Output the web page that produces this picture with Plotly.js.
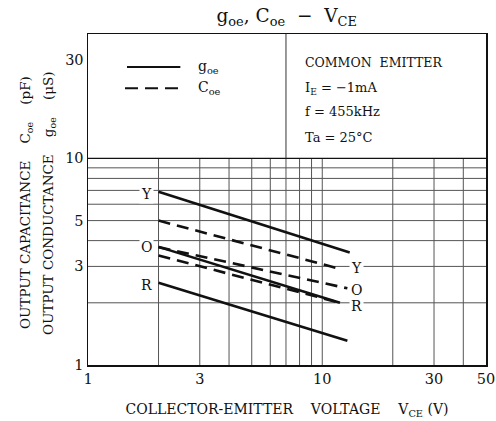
<!DOCTYPE html>
<html>
<head>
<meta charset="utf-8">
<script src="https://cdn.plot.ly/plotly-3.0.1.min.js"></script>
<style>html,body{margin:0;padding:0;background:#fff;}#chart{width:496px;height:421px;}</style>
</head>
<body>
<div id="chart"></div>
<script>
// Output conductance g_oe (solid) and capacitance C_oe (dashed) vs V_CE, hFE ranks Y, O, R
const goeY_x = [2, 13.1];  const goeY = [6.9, 3.5];
const goeO_x = [2, 11.9];  const goeO = [3.73, 2.0];
const goeR_x = [2, 12.8];  const goeR = [2.5, 1.31];
const coeY_x = [2, 11.5];  const coeY = [5.0, 2.95];
const coeO_x = [2, 12.8];  const coeO = [3.72, 2.35];
const coeR_x = [2, 11.9];  const coeR = [3.39, 2.0];

const xTickVals = [1, 3, 10, 30, 50];
const xTickText = ['1', '3', '10', '30', '50'];
const yTickVals = [1, 3, 5, 10, 30];
const yTickText = ['1', '3', '5', '10', '30'];
const xGrid = [2, 3, 4, 5, 6, 7, 8, 9, 10, 20, 30, 40];
const yGrid = [2, 3, 4, 5, 6, 7, 8, 9, 10];
const xMin = 1, xMax = 50, yMin = 1, yMax = 40, gridTop = 10, divider = 7;

const leftLabels = [{t: 'Y', x: 1.78, y: 6.75}, {t: 'O', x: 1.78, y: 3.74}, {t: 'R', x: 1.78, y: 2.44}];
const rightLabels = [{t: 'Y', x: 13.95, y: 2.96}, {t: 'O', x: 13.95, y: 2.31}, {t: 'R', x: 13.95, y: 1.93}];

const FONT = 'DejaVu Serif, Liberation Serif, serif';
const solid = {color: '#111', width: 2.6};
const dashed = {color: '#111', width: 2.6, dash: '12px,7px'};

const traces = [
  {x: goeY_x, y: goeY, line: solid},
  {x: goeO_x, y: goeO, line: solid},
  {x: goeR_x, y: goeR, line: solid},
  {x: coeY_x, y: coeY, line: dashed},
  {x: coeO_x, y: coeO, line: dashed},
  {x: coeR_x, y: coeR, line: dashed}
].map(t => Object.assign({type: 'scatter', mode: 'lines', showlegend: false, hoverinfo: 'skip'}, t));

const gridStyle = {color: '#555', width: 1};
const shapes = [];
xGrid.forEach(v => shapes.push({type: 'line', xref: 'x', yref: 'y', x0: v, x1: v, y0: yMin, y1: gridTop, line: gridStyle, layer: 'below'}));
yGrid.forEach(v => shapes.push({type: 'line', xref: 'x', yref: 'y', x0: xMin, x1: xMax, y0: v, y1: v, line: v === gridTop ? {color: '#111', width: 1.2} : gridStyle, layer: 'below'}));
shapes.push({type: 'line', xref: 'x', yref: 'y', x0: divider, x1: divider, y0: gridTop, y1: yMax, line: {color: '#333', width: 1}, layer: 'below'});
// legend samples (paper coordinates)
shapes.push({type: 'line', xref: 'paper', yref: 'paper', x0: 0.098, x1: 0.232, y0: 0.9, y1: 0.9, line: {color: '#111', width: 2}});
shapes.push({type: 'line', xref: 'paper', yref: 'paper', x0: 0.093, x1: 0.232, y0: 0.836, y1: 0.836, line: {color: '#111', width: 2, dash: '13px,7px'}});

const annotations = [];
leftLabels.concat(rightLabels).forEach(l => annotations.push({
  xref: 'x', yref: 'y', x: Math.log10(l.x), y: Math.log10(l.y), text: l.t, showarrow: false,
  font: {family: FONT, size: 14, color: '#111'}, bgcolor: '#fff', borderpad: 1
}));
const paperText = (text, x, y, size, anchor) => ({
  xref: 'paper', yref: 'paper', x: x, y: y, text: text, showarrow: false,
  xanchor: anchor || 'left', yanchor: 'middle', font: {family: FONT, size: size, color: '#111'}
});
annotations.push(paperText('g<sub>oe</sub>', 0.272, 0.9, 14));
annotations.push(paperText('C<sub>oe</sub>', 0.272, 0.836, 14));
annotations.push(paperText('COMMON  EMITTER', 0.54, 0.913, 12.5));
annotations.push(paperText('I<sub>E</sub> = −1mA', 0.54, 0.836, 13));
annotations.push(paperText('f = 455kHz', 0.54, 0.767, 13));
annotations.push(paperText('Ta = 25°C', 0.54, 0.687, 13));
// y-axis titles (two rotated lines)
annotations.push({xref: 'paper', yref: 'paper', x: -0.183, y: 0.49, textangle: -90, showarrow: false,
  text: 'OUTPUT CAPACITANCE    C<sub>oe</sub>    (pF)', font: {family: FONT, size: 13.5, color: '#111'}});
annotations.push({xref: 'paper', yref: 'paper', x: -0.125, y: 0.49, textangle: -90, showarrow: false,
  text: 'OUTPUT CONDUCTANCE    g<sub>oe</sub>    (μS)', font: {family: FONT, size: 13.5, color: '#111'}});

const axisBase = {
  type: 'log', showgrid: false, zeroline: false, showline: true, mirror: true,
  linecolor: '#111', linewidth: 1.5, ticks: '', tickfont: {family: FONT, size: 14.5, color: '#111'}
};

const layout = {
  width: 496, height: 421,
  margin: {l: 88, r: 10, t: 34, b: 56},
  paper_bgcolor: '#fff', plot_bgcolor: '#fff',
  showlegend: false,
  title: {text: 'g<sub>oe</sub>, C<sub>oe</sub>  −  V<sub>CE</sub>', x: 0.578, xanchor: 'center', y: 0.962, yanchor: 'middle',
    font: {family: FONT, size: 18.5, color: '#111'}},
  xaxis: Object.assign({}, axisBase, {range: [Math.log10(xMin), Math.log10(xMax)], tickmode: 'array', tickvals: xTickVals, ticktext: xTickText,
    title: {text: 'COLLECTOR-EMITTER    VOLTAGE    V<sub>CE</sub> (V)', standoff: 18, font: {family: FONT, size: 14, color: '#111'}}}),
  yaxis: Object.assign({}, axisBase, {range: [Math.log10(yMin), Math.log10(yMax)], tickmode: 'array', tickvals: yTickVals, ticktext: yTickText}),
  shapes: shapes,
  annotations: annotations
};

Plotly.newPlot('chart', traces, layout, {displayModeBar: false, staticPlot: true});
</script>
</body>
</html>
